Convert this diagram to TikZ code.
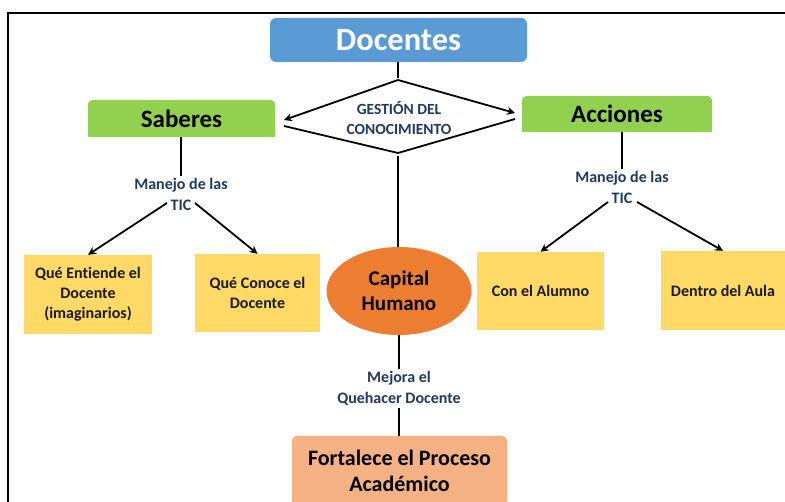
\documentclass[tikz,border=0pt]{standalone}
\usepackage{fontspec}
\setmainfont{Carlito}[Ligatures=NoCommon]
\usetikzlibrary{arrows.meta,shapes.geometric,backgrounds}
\definecolor{docblue}{RGB}{91,155,213}
\definecolor{sabgreen}{RGB}{146,208,80}
\definecolor{boxyellow}{RGB}{255,217,102}
\definecolor{caporange}{RGB}{237,125,49}
\definecolor{fortpeach}{RGB}{244,177,131}
\definecolor{navytext}{RGB}{31,56,100}
\begin{document}
\begin{tikzpicture}[x=1pt,y=-1pt,
  conn/.style={line width=1.8pt,black},
  arr/.style={conn,-{Stealth[length=8pt,width=8pt]}},
  headbox/.style={rectangle,inner sep=0pt,font=\fontsize{25}{30}\selectfont\bfseries,text=black},
  ybox/.style={rectangle,fill=boxyellow,inner sep=0pt,align=center,font=\fontsize{16}{20}\selectfont\bfseries,text=black!90},
  lbl/.style={align=center,inner sep=2pt,font=\fontsize{16}{21}\selectfont\bfseries,text=navytext}]
\useasboundingbox (0,0) rectangle (785,502);
\draw[line width=2pt] (8,530) |- (800,13);

% top
\node[rectangle,rounded corners=6pt,fill=docblue,minimum width=257pt,minimum height=44pt,
      font=\fontsize{32.5}{36}\selectfont\bfseries,text=white] (doc) at (398.5,40) {Docentes};
\node[headbox,minimum width=187pt,minimum height=37pt] (sab) at (181.5,118.5) {Saberes};
\node[headbox,minimum width=190pt,minimum height=36pt] (acc) at (617,114) {Acciones};
\begin{scope}[on background layer]
  \fill[sabgreen,rounded corners=5pt] (sab.south west) rectangle (sab.north east);
  \fill[sabgreen] (sab.west) rectangle (sab.south east);
  \fill[sabgreen,rounded corners=5pt] (acc.south west) rectangle (acc.north east);
  \fill[sabgreen] (acc.west) rectangle (acc.south east);
\end{scope}

% diamond
\node[lbl,font=\fontsize{15.5}{20}\selectfont\bfseries] (gest) at (399,118.5) {GESTIÓN DEL\\CONOCIMIENTO};
\coordinate (gt) at (398,80);
\coordinate (gl) at (284,120);
\coordinate (gr) at (515,113);
\coordinate (gll) at (284,126);
\coordinate (grl) at (515,119);
\coordinate (gb) at (398,153);
\coordinate (gbt) at (398,156);
\coordinate (dtop) at (398,78);
\draw[conn] (doc.south -| dtop) -- (dtop);
\draw[arr] (gt) -- (gl);
\draw[arr] (gt) -- (gr);
\draw[conn] (gll) -- (gb) -- (grl);

% left branch
\node[lbl] (lblL) at (181,194.5) {Manejo de las\\TIC};
\draw[conn] (sab.south -| lblL.north) -- (lblL.north);
\node[ybox,minimum width=128pt,minimum height=79pt] (y1) at (88,294.5) {Qué Entiende el\\Docente\\(imaginarios)};
\node[ybox,minimum width=125pt,minimum height=78pt] (y2) at (257.5,293) {Qué Conoce el\\Docente};
\coordinate (lLa) at (167,203);
\coordinate (lLb) at (195,203);
\draw[arr] (lLa) -- (y1.north);
\draw[arr] (lLb) -- (y2.north);

% right branch
\node[lbl] (lblR) at (622,187.5) {Manejo de las\\TIC};
\draw[conn] (acc.south -| lblR.north) -- (lblR.north);
\node[ybox,minimum width=127pt,minimum height=78pt] (y3) at (540.5,291) {Con el Alumno};
\node[ybox,minimum width=124pt,minimum height=79pt] (y4) at (723,290.5) {Dentro del Aula};
\coordinate (lRa) at (608,202);
\coordinate (lRb) at (637,202);
\draw[arr] (lRa) -- (y3.north);
\draw[arr] (lRb) -- (y4.north);

% center
\node[ellipse,fill=caporange,minimum width=145pt,minimum height=88pt,inner sep=0pt,align=center,
      font=\fontsize{21}{25}\selectfont\bfseries,text=black] (cap) at (399,291) {Capital\\Humano};
\draw[conn] (gbt) -- (gbt |- cap.north);
\node[lbl] (lblM) at (399,388.5) {Mejora el\\Quehacer Docente};
\draw[conn] (cap.south) -- (lblM.north);
\node[rectangle,minimum width=215pt,minimum height=70pt,inner sep=0pt,align=center,
      font=\fontsize{22}{26}\selectfont\bfseries,text=black] (fort) at (399.5,471) {Fortalece el Proceso\\Académico};
\begin{scope}[on background layer]
  \fill[fortpeach,rounded corners=6pt] (fort.south west) rectangle (fort.north east);
  \fill[fortpeach] (fort.west) rectangle (fort.south east);
\end{scope}
\draw[conn] (lblM.south) -- (lblM.south |- fort.north);
\end{tikzpicture}
\end{document}
